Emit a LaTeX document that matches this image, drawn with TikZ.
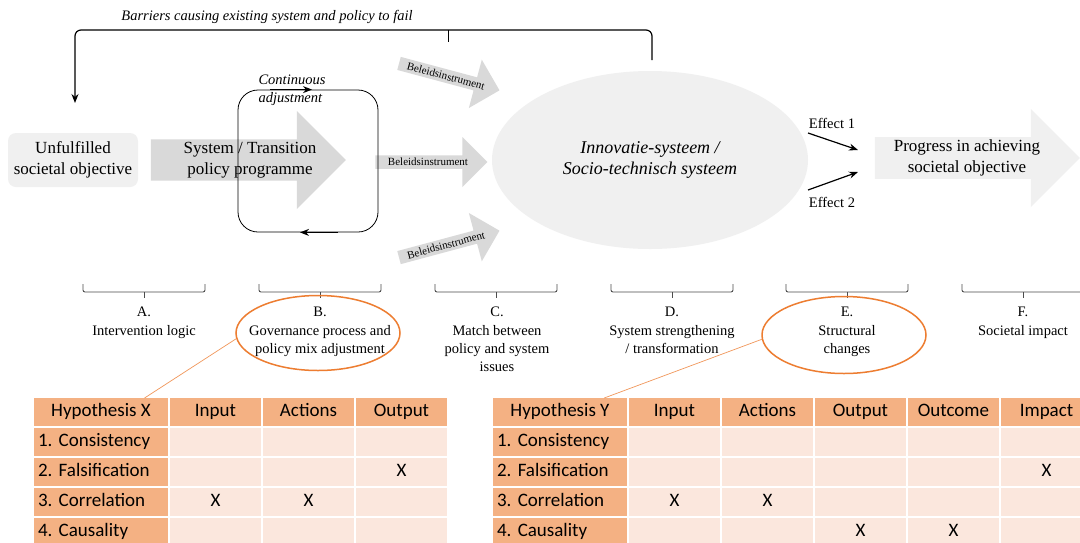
\documentclass[tikz,border=0pt]{standalone}
\usepackage{fontspec}
\setmainfont{Liberation Serif}
\newfontfamily\calibrifont{Carlito}
\usepackage{xcolor}
\usepackage{tikz}
\usetikzlibrary{shapes,arrows,positioning,calc,arrows.meta}
\definecolor{arrowgray}{RGB}{217,217,217}
\definecolor{palegray}{RGB}{240,240,240}
\definecolor{accent}{RGB}{237,125,49}
\definecolor{hdcol}{RGB}{244,177,131}
\definecolor{cellcol}{RGB}{251,231,221}
\newcommand{\tblfont}{\calibrifont\frenchspacing\fontsize{19pt}{22pt}\selectfont}

\begin{document}
\begin{tikzpicture}[x=1pt, y=-1pt,
        fatarrow/.style={single arrow, fill=arrowgray, inner sep=0pt, align=center, single arrow head extend=25pt, minimum width=98pt, font=\fontsize{17pt}{21pt}\selectfont},
        instr/.style={single arrow, fill=arrowgray, inner sep=0pt, minimum height=104pt, minimum width=50pt, single arrow head extend=11pt, font=\fontsize{11pt}{13pt}\selectfont},
        arrow/.style={>={Stealth[length=9pt, width=7pt]}, ->, line width=1.2pt},
        efx/.style={font=\fontsize{14.5pt}{17pt}\selectfont, inner sep=0pt},
        lbl/.style={align=center, anchor=north, inner sep=0pt, font=\fontsize{14.5pt}{18.3pt}\selectfont},
        bkt/.style={draw=black!70, line width=0.9pt, rounded corners=2pt},
        oval/.style={ellipse, draw=accent, line width=1.5pt, minimum width=164pt, minimum height=75pt},
        zoomline/.style={draw=accent!80, line width=0.7pt},
        cell/.style={rectangle, inner sep=0pt, outer sep=0pt, minimum height=28pt, text height=13pt, text depth=4pt, font=\tblfont},
        colhd/.style={cell, fill=hdcol, minimum width=91pt},
        hyp/.style={cell, fill=hdcol, minimum width=134pt},
        rowhd/.style={cell, fill=hdcol, text width=126pt, inner xsep=4pt, align=left},
        dat/.style={cell, fill=cellcol, minimum width=91pt},
      ]
      \fill [white] (0,0) rectangle (1080,542);
      \useasboundingbox (0,0) rectangle (1080,542);
      % upper part
      \node [ellipse, fill=palegray, minimum width=316pt, minimum height=178pt, align=center, font=\itshape\fontsize{18pt}{21pt}\selectfont] (sys) at (650,160) {Innovatie-systeem /\\Socio-technisch systeem};
      \node [rectangle, rounded corners=8pt, fill=palegray, minimum width=130pt, minimum height=54pt, align=center, font=\fontsize{17pt}{21pt}\selectfont] (goal) at (73,160) {Unfulfilled\\societal objective};
      \node [fatarrow, minimum height=195pt] (prog) at (238,160) {\hspace*{24pt}System / Transition\\\hspace*{24pt}policy programme};
      \node [instr, rotate=-15] (instr1) at (446,76) {Beleidsinstrument};
      \node [instr, minimum height=112pt] (instr2) at (428,162) {Beleidsinstrument};
      \node [instr, rotate=15] (instr3) at (446,245) {Beleidsinstrument};
      \node [draw, rounded corners=20pt, minimum width=140pt, minimum height=142pt, line width=0.8pt] (loop) at (308,161) {};
      \node [align=left, inner sep=0pt, font=\itshape\fontsize{14.5pt}{18pt}\selectfont] (adjlbl) at (292,90) {Continuous\\adjustment};
      \draw [arrow] ($(loop.north)+(-38,0)$) -- ($(loop.north)+(4,0)$);
      \draw [arrow] ($(loop.south)+(30,0)$) -- ($(loop.south)+(-8,0)$);
      \node [fatarrow, fill=palegray, minimum height=205pt] (target) at (967,158) {Progress in achieving\\societal objective};
      \node [efx] (eff1) at (832,123) {Effect 1};
      \node [efx] (eff2) at (832,202) {Effect 2};
      \coordinate (e1s) at (808,133);
      \coordinate (e1e) at (858,150);
      \coordinate (e2s) at (808,190);
      \coordinate (e2e) at (858,172);
      \draw [arrow] (e1s) -- (e1e);
      \draw [arrow] (e2s) -- (e2e);
      % feedback loop on top
      \node [inner sep=0pt, font=\itshape\fontsize{14.5pt}{17pt}\selectfont] (barrier) at (267,17) {Barriers causing existing system and policy to fail};
      \coordinate (fb-r) at (652,60);
      \coordinate (fb-l) at (75,30);
      \coordinate (fb-end) at (75,103);
      \coordinate (fb-tick) at (448,30);
      \draw [arrow, rounded corners=6pt] (fb-r) |- (fb-l) -- (fb-end);
      \draw [line width=1pt] (fb-tick) -- ++(0,12);
      % brackets and stages
      \draw [bkt] (83,284) |- (144,292) -| (205,284); \draw [bkt] (144,292) -- (144,298);
      \draw [bkt] (259,284) |- (320,292) -| (381,284); \draw [bkt] (320,292) -- (320,298);
      \draw [bkt] (435,284) |- (496,292) -| (557,284); \draw [bkt] (496,292) -- (496,298);
      \draw [bkt] (611,284) |- (672,292) -| (733,284); \draw [bkt] (672,292) -- (672,298);
      \draw [bkt] (786,284) |- (847,292) -| (908,284); \draw [bkt] (847,292) -- (847,298);
      \draw [bkt] (962,284) |- (1023,292) -| (1084,284); \draw [bkt] (1023,292) -- (1023,298);
      \node [lbl] (stA) at (144,307) {A.\\Intervention logic};
      \node [lbl] (stB) at (320,307) {B.\\Governance process and\\policy mix adjustment};
      \node [lbl] (stC) at (497,307) {C.\\Match between\\policy and system\\issues};
      \node [lbl] (stD) at (672,307) {D.\\System strengthening\\/ transformation};
      \node [lbl] (stE) at (847,307) {E.\\Structural\\changes};
      \node [lbl] (stF) at (1023,307) {F.\\Societal impact};
      \node [oval] (ringB) at (318,333) {};
      \node [oval, minimum height=77pt] (ringE) at (844,335) {};
      % table X
      \node [hyp] (hx) at (101,412) {Hypothesis X};
      \node [colhd, right=2pt of hx] (hx-in) {Input};
      \node [colhd, right=2pt of hx-in] (hx-act) {Actions};
      \node [colhd, right=2pt of hx-act] (hx-out) {Output};
      \node [rowhd, below=2pt of hx] (x1) {1. Consistency};
      \node [dat, right=2pt of x1] (x1-in) {};
      \node [dat, right=2pt of x1-in] (x1-act) {};
      \node [dat, right=2pt of x1-act] (x1-out) {};
      \node [rowhd, below=2pt of x1] (x2) {2. Falsification};
      \node [dat, right=2pt of x2] (x2-in) {};
      \node [dat, right=2pt of x2-in] (x2-act) {};
      \node [dat, right=2pt of x2-act] (x2-out) {X};
      \node [rowhd, below=2pt of x2] (x3) {3. Correlation};
      \node [dat, right=2pt of x3] (x3-in) {X};
      \node [dat, right=2pt of x3-in] (x3-act) {X};
      \node [dat, right=2pt of x3-act] (x3-out) {};
      \node [rowhd, below=2pt of x3] (x4) {4. Causality};
      \node [dat, right=2pt of x4] (x4-in) {};
      \node [dat, right=2pt of x4-in] (x4-act) {};
      \node [dat, right=2pt of x4-act] (x4-out) {};
      % table Y
      \node [hyp] (hy) at (560,412) {Hypothesis Y};
      \node [colhd, right=2pt of hy] (hy-in) {Input};
      \node [colhd, right=2pt of hy-in] (hy-act) {Actions};
      \node [colhd, right=2pt of hy-act] (hy-out) {Output};
      \node [colhd, right=2pt of hy-out] (hy-oc) {Outcome};
      \node [colhd, right=2pt of hy-oc] (hy-imp) {Impact};
      \node [rowhd, below=2pt of hy] (y1) {1. Consistency};
      \node [dat, right=2pt of y1] (y1-in) {};
      \node [dat, right=2pt of y1-in] (y1-act) {};
      \node [dat, right=2pt of y1-act] (y1-out) {};
      \node [dat, right=2pt of y1-out] (y1-oc) {};
      \node [dat, right=2pt of y1-oc] (y1-imp) {};
      \node [rowhd, below=2pt of y1] (y2) {2. Falsification};
      \node [dat, right=2pt of y2] (y2-in) {};
      \node [dat, right=2pt of y2-in] (y2-act) {};
      \node [dat, right=2pt of y2-act] (y2-out) {};
      \node [dat, right=2pt of y2-out] (y2-oc) {};
      \node [dat, right=2pt of y2-oc] (y2-imp) {X};
      \node [rowhd, below=2pt of y2] (y3) {3. Correlation};
      \node [dat, right=2pt of y3] (y3-in) {X};
      \node [dat, right=2pt of y3-in] (y3-act) {X};
      \node [dat, right=2pt of y3-act] (y3-out) {};
      \node [dat, right=2pt of y3-out] (y3-oc) {};
      \node [dat, right=2pt of y3-oc] (y3-imp) {};
      \node [rowhd, below=2pt of y3] (y4) {4. Causality};
      \node [dat, right=2pt of y4] (y4-in) {};
      \node [dat, right=2pt of y4-in] (y4-act) {};
      \node [dat, right=2pt of y4-act] (y4-out) {X};
      \node [dat, right=2pt of y4-out] (y4-oc) {X};
      \node [dat, right=2pt of y4-oc] (y4-imp) {};
      % zoom lines
      \draw [zoomline] (ringB.184) -- ($(hx.north)!0.65!(hx.north east)$);
      \draw [zoomline] (ringE.183) -- ($(hy.north)!0.66!(hy.north east)$);
    \end{tikzpicture}
\end{document}
